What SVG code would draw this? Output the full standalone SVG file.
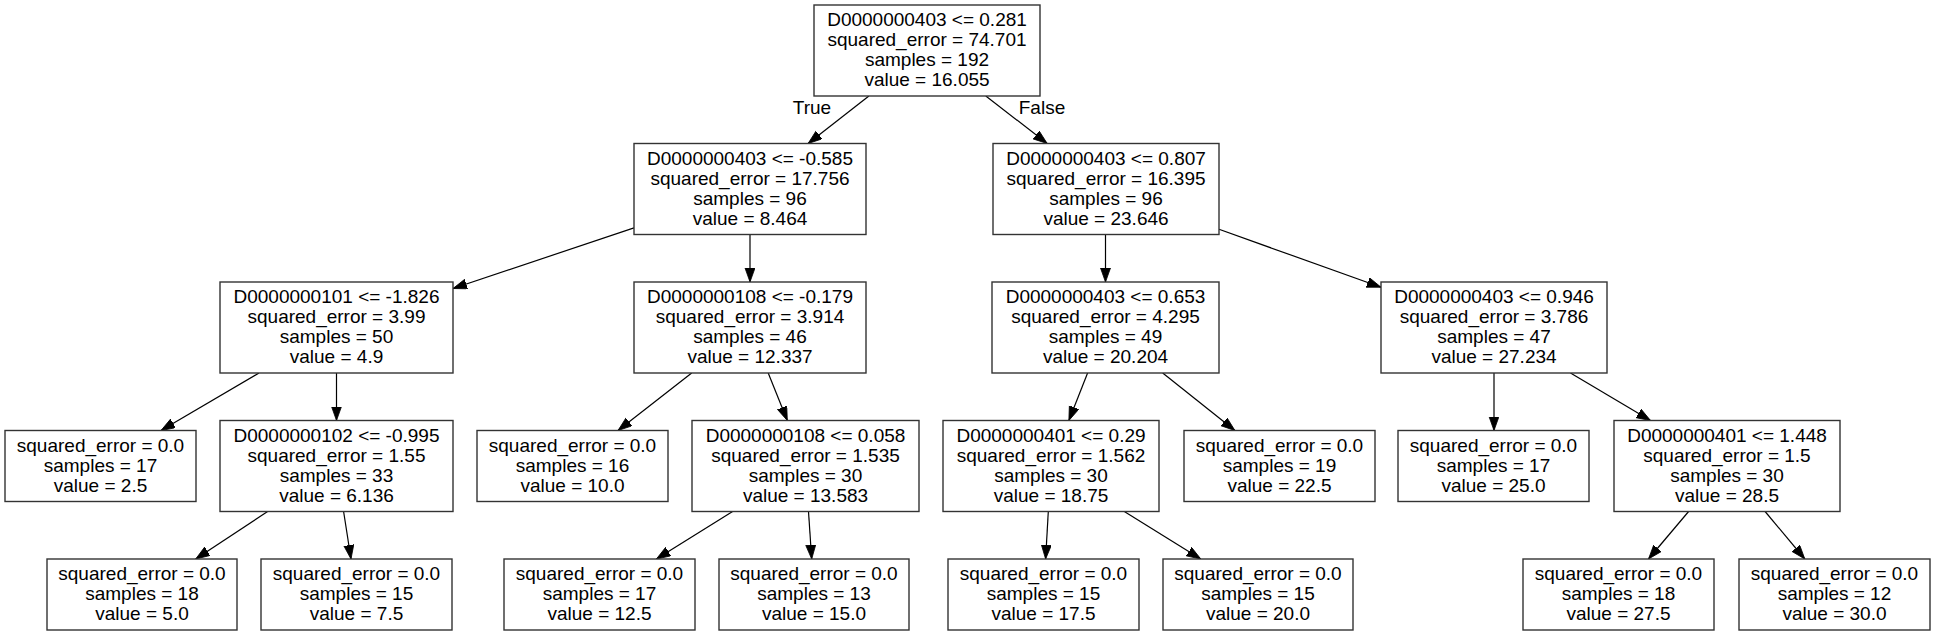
<svg xmlns="http://www.w3.org/2000/svg" width="1935" height="636" viewBox="0 0 1935 636">
<style>
.box{fill:#fff;stroke:#333;stroke-width:1.4}
.t{font-family:"Liberation Sans",Arial,Helvetica,sans-serif;font-size:19px;text-anchor:middle;fill:#000}
.e{stroke:#000;stroke-width:1.2;fill:none;marker-end:url(#arr)}
</style>
<defs>
<marker id="arr" markerUnits="userSpaceOnUse" markerWidth="15" markerHeight="11" refX="14" refY="5" orient="auto">
<path d="M0,0 L14,5 L0,10 z" fill="#000" stroke="#000" stroke-width="0.8"/>
</marker>
</defs>
<rect width="1935" height="636" fill="#fff"/>
<g id="edges">
<line class="e" x1="868.9" y1="96" x2="808.1" y2="143.5"/>
<line class="e" x1="985.8" y1="96" x2="1047.2" y2="143.5"/>
<line class="e" x1="634" y1="227.9" x2="453" y2="288.5"/>
<line class="e" x1="750" y1="234.5" x2="750" y2="282"/>
<line class="e" x1="1105.5" y1="234.5" x2="1105.5" y2="282"/>
<line class="e" x1="1219" y1="229.3" x2="1381" y2="287.2"/>
<line class="e" x1="259" y1="373" x2="161" y2="430.5"/>
<line class="e" x1="336.5" y1="373" x2="336.5" y2="420.5"/>
<line class="e" x1="691.7" y1="373" x2="618" y2="430.5"/>
<line class="e" x1="768.2" y1="373" x2="787.3" y2="420.5"/>
<line class="e" x1="1087.6" y1="373" x2="1068.9" y2="420.5"/>
<line class="e" x1="1162.7" y1="373" x2="1234.9" y2="430.5"/>
<line class="e" x1="1494" y1="373" x2="1494" y2="430.5"/>
<line class="e" x1="1570.5" y1="373" x2="1650.5" y2="420.5"/>
<line class="e" x1="267.6" y1="511.5" x2="195.7" y2="559"/>
<line class="e" x1="343.6" y1="511.5" x2="351" y2="559"/>
<line class="e" x1="732.6" y1="511.5" x2="656.4" y2="559"/>
<line class="e" x1="808.5" y1="511.5" x2="811.7" y2="559"/>
<line class="e" x1="1048.3" y1="511.5" x2="1045.6" y2="559"/>
<line class="e" x1="1124.3" y1="511.5" x2="1200.8" y2="559"/>
<line class="e" x1="1688.6" y1="511.5" x2="1648.5" y2="559"/>
<line class="e" x1="1765.1" y1="511.5" x2="1804.8" y2="559"/>
<text class="t" x="812" y="114">True</text>
<text class="t" x="1042" y="114">False</text>
</g>
<g id="n0"><rect class="box" x="814" y="5" width="226" height="91"/>
<text class="t"><tspan x="927" y="26.2">D0000000403 &lt;= 0.281</tspan><tspan x="927" y="46.2">squared_error = 74.701</tspan><tspan x="927" y="66.2">samples = 192</tspan><tspan x="927" y="86.2">value = 16.055</tspan></text></g>
<g id="n1"><rect class="box" x="634" y="143.5" width="232" height="91"/>
<text class="t"><tspan x="750" y="164.7">D0000000403 &lt;= -0.585</tspan><tspan x="750" y="184.7">squared_error = 17.756</tspan><tspan x="750" y="204.7">samples = 96</tspan><tspan x="750" y="224.7">value = 8.464</tspan></text></g>
<g id="n8"><rect class="box" x="993" y="143.5" width="226" height="91"/>
<text class="t"><tspan x="1106" y="164.7">D0000000403 &lt;= 0.807</tspan><tspan x="1106" y="184.7">squared_error = 16.395</tspan><tspan x="1106" y="204.7">samples = 96</tspan><tspan x="1106" y="224.7">value = 23.646</tspan></text></g>
<g id="n2"><rect class="box" x="220" y="282" width="233" height="91"/>
<text class="t"><tspan x="336.5" y="303.2">D0000000101 &lt;= -1.826</tspan><tspan x="336.5" y="323.2">squared_error = 3.99</tspan><tspan x="336.5" y="343.2">samples = 50</tspan><tspan x="336.5" y="363.2">value = 4.9</tspan></text></g>
<g id="n5"><rect class="box" x="634" y="282" width="232" height="91"/>
<text class="t"><tspan x="750" y="303.2">D0000000108 &lt;= -0.179</tspan><tspan x="750" y="323.2">squared_error = 3.914</tspan><tspan x="750" y="343.2">samples = 46</tspan><tspan x="750" y="363.2">value = 12.337</tspan></text></g>
<g id="n9"><rect class="box" x="992" y="282" width="227" height="91"/>
<text class="t"><tspan x="1105.5" y="303.2">D0000000403 &lt;= 0.653</tspan><tspan x="1105.5" y="323.2">squared_error = 4.295</tspan><tspan x="1105.5" y="343.2">samples = 49</tspan><tspan x="1105.5" y="363.2">value = 20.204</tspan></text></g>
<g id="n12"><rect class="box" x="1381" y="282" width="226" height="91"/>
<text class="t"><tspan x="1494" y="303.2">D0000000403 &lt;= 0.946</tspan><tspan x="1494" y="323.2">squared_error = 3.786</tspan><tspan x="1494" y="343.2">samples = 47</tspan><tspan x="1494" y="363.2">value = 27.234</tspan></text></g>
<g id="n3"><rect class="box" x="5" y="430.5" width="191" height="71"/>
<text class="t"><tspan x="100.5" y="451.7">squared_error = 0.0</tspan><tspan x="100.5" y="471.7">samples = 17</tspan><tspan x="100.5" y="491.7">value = 2.5</tspan></text></g>
<g id="n4"><rect class="box" x="220" y="420.5" width="233" height="91"/>
<text class="t"><tspan x="336.5" y="441.7">D0000000102 &lt;= -0.995</tspan><tspan x="336.5" y="461.7">squared_error = 1.55</tspan><tspan x="336.5" y="481.7">samples = 33</tspan><tspan x="336.5" y="501.7">value = 6.136</tspan></text></g>
<g id="n6"><rect class="box" x="477" y="430.5" width="191" height="71"/>
<text class="t"><tspan x="572.5" y="451.7">squared_error = 0.0</tspan><tspan x="572.5" y="471.7">samples = 16</tspan><tspan x="572.5" y="491.7">value = 10.0</tspan></text></g>
<g id="n7"><rect class="box" x="692" y="420.5" width="227" height="91"/>
<text class="t"><tspan x="805.5" y="441.7">D0000000108 &lt;= 0.058</tspan><tspan x="805.5" y="461.7">squared_error = 1.535</tspan><tspan x="805.5" y="481.7">samples = 30</tspan><tspan x="805.5" y="501.7">value = 13.583</tspan></text></g>
<g id="n10"><rect class="box" x="943" y="420.5" width="216" height="91"/>
<text class="t"><tspan x="1051" y="441.7">D0000000401 &lt;= 0.29</tspan><tspan x="1051" y="461.7">squared_error = 1.562</tspan><tspan x="1051" y="481.7">samples = 30</tspan><tspan x="1051" y="501.7">value = 18.75</tspan></text></g>
<g id="n11"><rect class="box" x="1184" y="430.5" width="191" height="71"/>
<text class="t"><tspan x="1279.5" y="451.7">squared_error = 0.0</tspan><tspan x="1279.5" y="471.7">samples = 19</tspan><tspan x="1279.5" y="491.7">value = 22.5</tspan></text></g>
<g id="n13"><rect class="box" x="1398" y="430.5" width="191" height="71"/>
<text class="t"><tspan x="1493.5" y="451.7">squared_error = 0.0</tspan><tspan x="1493.5" y="471.7">samples = 17</tspan><tspan x="1493.5" y="491.7">value = 25.0</tspan></text></g>
<g id="n14"><rect class="box" x="1614" y="420.5" width="226" height="91"/>
<text class="t"><tspan x="1727" y="441.7">D0000000401 &lt;= 1.448</tspan><tspan x="1727" y="461.7">squared_error = 1.5</tspan><tspan x="1727" y="481.7">samples = 30</tspan><tspan x="1727" y="501.7">value = 28.5</tspan></text></g>
<g id="n15"><rect class="box" x="47" y="559" width="190" height="71"/>
<text class="t"><tspan x="142" y="580.2">squared_error = 0.0</tspan><tspan x="142" y="600.2">samples = 18</tspan><tspan x="142" y="620.2">value = 5.0</tspan></text></g>
<g id="n16"><rect class="box" x="261" y="559" width="191" height="71"/>
<text class="t"><tspan x="356.5" y="580.2">squared_error = 0.0</tspan><tspan x="356.5" y="600.2">samples = 15</tspan><tspan x="356.5" y="620.2">value = 7.5</tspan></text></g>
<g id="n17"><rect class="box" x="504" y="559" width="191" height="71"/>
<text class="t"><tspan x="599.5" y="580.2">squared_error = 0.0</tspan><tspan x="599.5" y="600.2">samples = 17</tspan><tspan x="599.5" y="620.2">value = 12.5</tspan></text></g>
<g id="n18"><rect class="box" x="719" y="559" width="190" height="71"/>
<text class="t"><tspan x="814" y="580.2">squared_error = 0.0</tspan><tspan x="814" y="600.2">samples = 13</tspan><tspan x="814" y="620.2">value = 15.0</tspan></text></g>
<g id="n19"><rect class="box" x="948" y="559" width="191" height="71"/>
<text class="t"><tspan x="1043.5" y="580.2">squared_error = 0.0</tspan><tspan x="1043.5" y="600.2">samples = 15</tspan><tspan x="1043.5" y="620.2">value = 17.5</tspan></text></g>
<g id="n20"><rect class="box" x="1163" y="559" width="190" height="71"/>
<text class="t"><tspan x="1258" y="580.2">squared_error = 0.0</tspan><tspan x="1258" y="600.2">samples = 15</tspan><tspan x="1258" y="620.2">value = 20.0</tspan></text></g>
<g id="n21"><rect class="box" x="1523" y="559" width="191" height="71"/>
<text class="t"><tspan x="1618.5" y="580.2">squared_error = 0.0</tspan><tspan x="1618.5" y="600.2">samples = 18</tspan><tspan x="1618.5" y="620.2">value = 27.5</tspan></text></g>
<g id="n22"><rect class="box" x="1739" y="559" width="191" height="71"/>
<text class="t"><tspan x="1834.5" y="580.2">squared_error = 0.0</tspan><tspan x="1834.5" y="600.2">samples = 12</tspan><tspan x="1834.5" y="620.2">value = 30.0</tspan></text></g>
</svg>
